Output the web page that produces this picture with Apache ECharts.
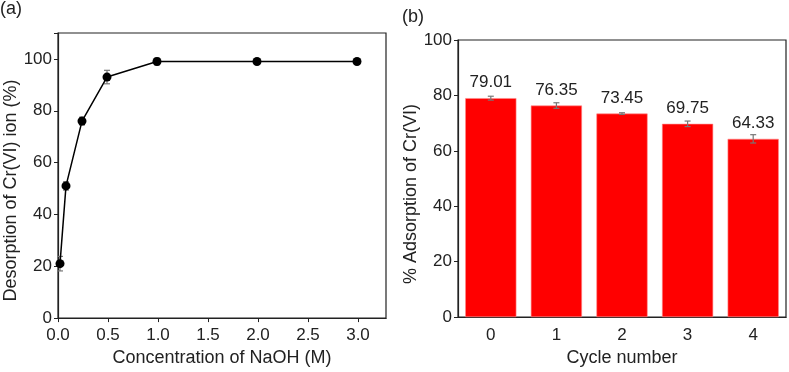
<!DOCTYPE html>
<html><head><meta charset="utf-8">
<script src="https://cdn.jsdelivr.net/npm/echarts@6/dist/echarts.min.js"></script>
<style>html,body{margin:0;padding:0;background:#fff}#c{width:789px;height:372px}</style>
</head><body><div id="c"></div>
<script>
// Panel (a): desorption vs NaOH concentration
const naohConc = [0.02, 0.08, 0.24, 0.49, 0.99, 1.99, 2.99];
const desorption = [21, 51, 76, 93, 99, 99, 99];
const desorptionErr = [2.8, 1.6, 1.5, 2.6, 1.3, 0.4, 0.4];
const xTicksA = [0, 0.5, 1.0, 1.5, 2.0, 2.5, 3.0];
// Panel (b): adsorption per cycle
const cycles = ['0', '1', '2', '3', '4'];
const adsorption = [79.01, 76.35, 73.45, 69.75, 64.33];
const adsorptionErr = [0.7, 1.0, 0.3, 1.0, 1.5];

const FONT = 'Liberation Sans, Arial, sans-serif';
const TXT = '#222';

function errRender(cap, color) {
  return function (params, api) {
    const x = api.value(0), y = api.value(1), e = api.value(2);
    const hi = api.coord([x, y + e]);
    const lo = api.coord([x, y - e]);
    const st = { stroke: color, lineWidth: 1.2 };
    return { type: 'group', children: [
      { type: 'line', shape: { x1: hi[0], y1: hi[1], x2: lo[0], y2: lo[1] }, style: st },
      { type: 'line', shape: { x1: hi[0] - cap, y1: hi[1], x2: hi[0] + cap, y2: hi[1] }, style: st },
      { type: 'line', shape: { x1: lo[0] - cap, y1: lo[1], x2: lo[0] + cap, y2: lo[1] }, style: st }
    ]};
  };
}

const chart = echarts.init(document.getElementById('c'), null, { renderer: 'canvas' });
const axisLine = { show: true, lineStyle: { color: '#222', width: 1.2 } };
const lbl = { color: TXT, fontSize: 17, fontFamily: FONT };
const nameStyle = { color: TXT, fontSize: 18, fontFamily: FONT };

chart.setOption({
  animation: false,
  textStyle: { fontFamily: FONT },
  title: [
    { text: '(a)', left: 0, top: 0, padding: 0, textStyle: { fontSize: 18, fontWeight: 'normal', color: TXT, fontFamily: FONT } },
    { text: '(b)', left: 402, top: 8, padding: 0, textStyle: { fontSize: 18, fontWeight: 'normal', color: TXT, fontFamily: FONT } }
  ],
  grid: [
    { left: 58, top: 33, width: 328, height: 290, show: true, borderColor: '#222', borderWidth: 1.2, backgroundColor: 'transparent' },
    { left: 458, top: 40, width: 328, height: 285, show: true, borderColor: '#222', borderWidth: 1.2, backgroundColor: 'transparent' }
  ],
  xAxis: [
    { type: 'value', gridIndex: 0, min: 0, max: 3.28, interval: 0.5,
      name: 'Concentration of NaOH (M)', nameLocation: 'middle', nameGap: 30, nameTextStyle: nameStyle,
      axisLine: axisLine, axisTick: { show: true, inside: false, length: 4, lineStyle: { color: '#222' } },
      splitLine: { show: false },
      axisLabel: Object.assign({ margin: 9, showMaxLabel: false,
        formatter: v => (xTicksA.some(t => Math.abs(t - v) < 1e-9) ? v.toFixed(1) : '') }, lbl) },
    { type: 'category', gridIndex: 1, data: cycles,
      name: 'Cycle number', nameLocation: 'middle', nameGap: 24, nameTextStyle: nameStyle,
      axisLine: axisLine, axisTick: { show: false },
      axisLabel: Object.assign({ margin: 10 }, lbl) }
  ],
  yAxis: [
    { type: 'value', gridIndex: 0, min: 0, max: 110, interval: 20,
      name: 'Desorption of Cr(VI) ion (%)', nameLocation: 'middle', nameGap: 35,
      nameTextStyle: Object.assign({ padding: [0, 30, 0, 0] }, nameStyle),
      axisLine: axisLine, axisTick: { show: true, length: 4, lineStyle: { color: '#222' } },
      splitLine: { show: false },
      axisLabel: Object.assign({ margin: 6, formatter: v => (v > 100 ? '' : String(v)) }, lbl) },
    { type: 'value', gridIndex: 1, min: 0, max: 100, interval: 20,
      name: '% Adsorption of Cr(VI)', nameLocation: 'middle', nameGap: 31,
      nameTextStyle: Object.assign({ padding: [0, 31, 0, 0] }, nameStyle),
      axisLine: axisLine, axisTick: { show: true, length: 4, lineStyle: { color: '#222' } },
      splitLine: { show: false },
      axisLabel: Object.assign({ margin: 6 }, lbl) }
  ],
  series: [
    { type: 'custom', xAxisIndex: 0, yAxisIndex: 0, z: 1,
      renderItem: errRender(3, '#777'),
      data: naohConc.map((x, i) => [x, desorption[i], desorptionErr[i]]) },
    { type: 'line', xAxisIndex: 0, yAxisIndex: 0, z: 3,
      data: naohConc.map((x, i) => [x, desorption[i]]),
      symbol: 'circle', symbolSize: 9,
      itemStyle: { color: '#000' }, lineStyle: { color: '#000', width: 1.5 } },
    { type: 'bar', xAxisIndex: 1, yAxisIndex: 1, z: 2,
      data: adsorption, barCategoryGap: '22%',
      itemStyle: { color: '#ff0000', borderColor: '#ff8a8a', borderWidth: 0.6 },
      label: { show: true, position: 'top', distance: 7, color: TXT, fontSize: 17, fontFamily: FONT,
        formatter: p => p.value.toFixed(2) } },
    { type: 'custom', xAxisIndex: 1, yAxisIndex: 1, z: 5,
      renderItem: errRender(3, '#777'),
      data: adsorption.map((v, i) => [i, v, adsorptionErr[i]]) }
  ]
});
</script>
</body></html>
